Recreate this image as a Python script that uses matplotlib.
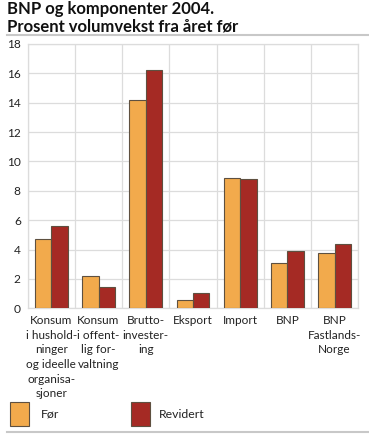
import matplotlib
matplotlib.use("Agg")
import matplotlib.pyplot as plt
import numpy as np
from matplotlib.patches import Rectangle

plt.rcParams['font.family'] = ['Lato', 'DejaVu Sans']

categories = ["Konsum\ni hushold-\nninger\nog ideelle\norganisa-\nsjoner",
              "Konsum\ni offent-\nlig for-\nvaltning",
              "Brutto-\ninvester-\ning",
              "Eksport", "Import", "BNP", "BNP\nFastlands-\nNorge"]
for_values = [4.7, 2.2, 14.2, 0.55, 8.9, 3.1, 3.8]
revidert_values = [5.6, 1.45, 16.2, 1.05, 8.8, 3.9, 4.4]
series_names = ["Før", "Revidert"]
yticks = list(range(0, 19, 2))

W, H = 369, 434
fig = plt.figure(figsize=(W/100, H/100), dpi=100)

ax_l, ax_r, ax_t, ax_b = 27.7, 358.3, 44, 308.3
ax = fig.add_axes([ax_l/W, 1-ax_b/H, (ax_r-ax_l)/W, (ax_b-ax_t)/H])

c_for = '#f2aa4c'
c_rev = '#a52a24'
edge = '#5e5040'
x = np.arange(len(categories))
bw = 0.345
ax.bar(x - bw/2, for_values, bw, color=c_for, edgecolor=edge, linewidth=0.8, zorder=3)
ax.bar(x + bw/2, revidert_values, bw, color=c_rev, edgecolor=edge, linewidth=0.8, zorder=3)

ax.set_xlim(-0.5, len(categories)-0.5)
ax.set_ylim(0, 18)
ax.set_yticks(yticks)
ax.set_yticklabels([str(v) for v in yticks], fontsize=8.6, color='#222222')
ax.tick_params(axis='y', length=0, pad=5)
ax.set_xticks(x)
ax.set_xticklabels(categories, fontsize=8.5, color='#222222', linespacing=1.4, va='top')
ax.tick_params(axis='x', length=0, pad=5)

ax.set_xticks(np.arange(-0.5, len(categories)+0.5, 1), minor=True)
ax.tick_params(axis='x', which='minor', length=0)
ax.grid(True, axis='y', color='#dcdcdc', linewidth=0.9, zorder=0)
ax.grid(True, axis='x', which='minor', color='#dcdcdc', linewidth=0.9, zorder=0)
ax.grid(False, axis='x', which='major')
for s in ax.spines.values():
    s.set_color('#dcdcdc')
    s.set_linewidth(0.9)

# Title
fig.text(7/W, 1-9/H, "BNP og komponenter 2004.", fontsize=12, fontweight='bold', va='center', ha='left', color='#111111')
fig.text(7/W, 1-27/H, "Prosent volumvekst fra året før", fontsize=12, fontweight='bold', va='center', ha='left', color='#111111')
fig.add_artist(plt.Line2D([7/W, 368/W], [1-35/H, 1-35/H], color='#c8c8c8', linewidth=1.5))
fig.add_artist(plt.Line2D([7/W, 368/W], [1-432/H, 1-432/H], color='#c8c8c8', linewidth=1.5))

# Legend
for (lx, tx, c, name) in [(10, 41, c_for, series_names[0]), (131, 159, c_rev, series_names[1])]:
    fig.add_artist(Rectangle((lx/W, 1-426/H), 19/W, 24.5/H, facecolor=c, edgecolor=edge, linewidth=0.8))
    fig.text(tx/W, 1-414/H, name, fontsize=8.8, va='center', ha='left', color='#222222')

fig.savefig("out.png", dpi=100)
